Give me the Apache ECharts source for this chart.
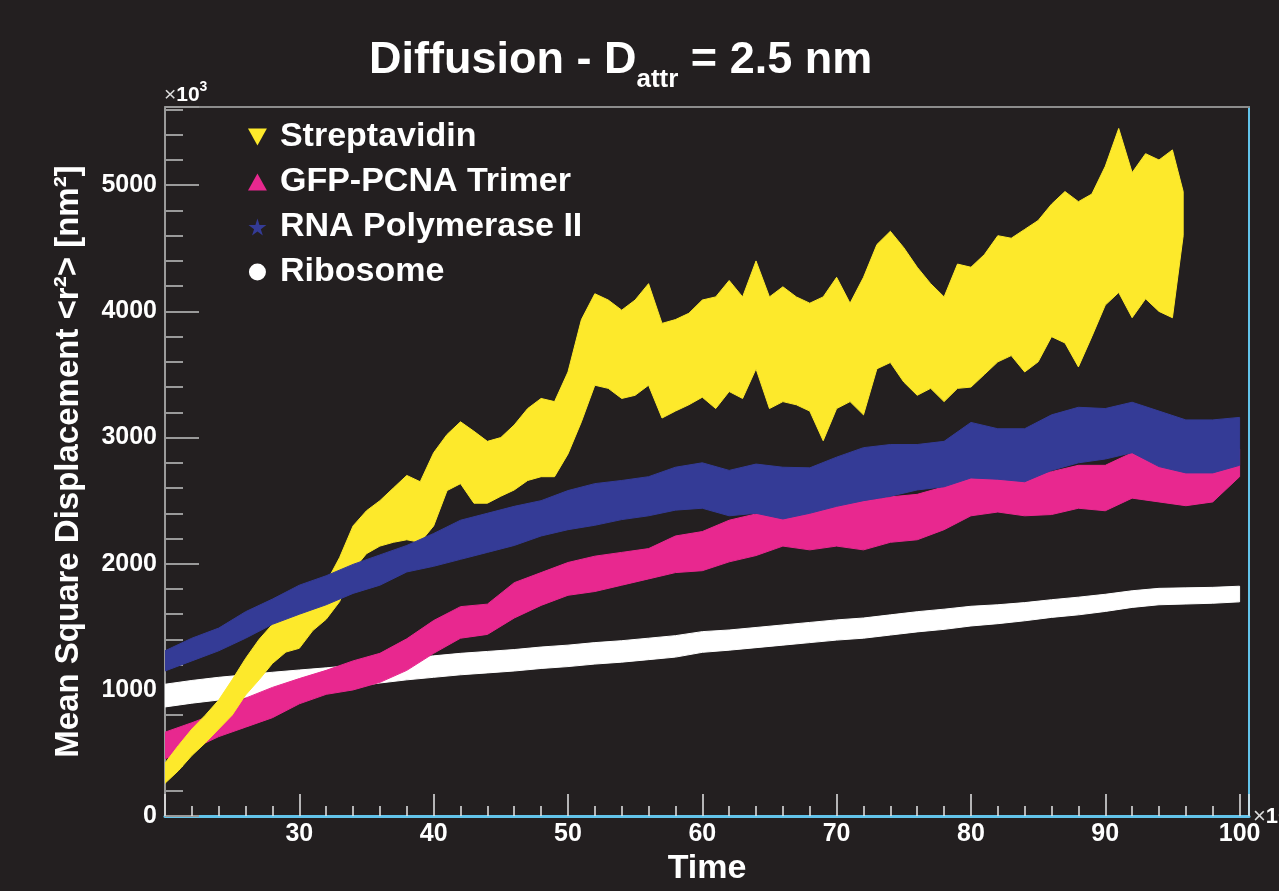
<!DOCTYPE html>
<html style="height: 100%">
  <head>
    <meta charset="utf-8" />
    <title>Diffusion</title>
    <script src="https://cdn.jsdelivr.net/npm/echarts@6/dist/echarts.min.js"></script>
  </head>
  <body style="height: 100%; margin: 0; background: #231f20">
    <div id="main" style="width: 1279px; height: 891px"></div>
    <script type="text/javascript">
      // time grid (smooth bands every 2, streptavidin every 1)
      var tCoarse = [20, 22, 24, 26, 28, 30, 32, 34, 36, 38, 40, 42, 44, 46, 48, 50, 52, 54, 56, 58, 60,
        62, 64, 66, 68, 70, 72, 74, 76, 78, 80, 82, 84, 86, 88, 90, 92, 94, 96, 98, 100];
      var tFine = [20, 21, 22, 23, 24, 25, 26, 27, 28, 29, 30, 31, 32, 33, 34, 35, 36, 37, 38, 39, 40,
        41, 42, 43, 44, 45, 46, 47, 48, 49, 50, 51, 52, 53, 54, 55, 56, 57, 58, 59, 60,
        61, 62, 63, 64, 65, 66, 67, 68, 69, 70, 71, 72, 73, 74, 75, 76, 77, 78, 79, 80,
        81, 82, 83, 84, 85, 86, 87, 88, 89, 90, 91, 92, 93, 94, 95, 95.8];

      // Streptavidin: lower / upper edge of the band
      var streptLow = [260, 360, 480, 580, 690, 800, 960, 1080, 1210, 1300, 1330,
        1470, 1560, 1700, 1950, 2080, 2140, 2170, 2190, 2170, 2300,
        2580, 2635, 2480, 2480, 2535, 2585, 2660, 2690, 2690, 2870,
        3125, 3415, 3390, 3310, 3335, 3415, 3155, 3210, 3260, 3320,
        3230, 3365, 3310, 3545, 3230, 3285, 3260, 3210, 2975, 3230,
        3285, 3180, 3545, 3595, 3440, 3335, 3390, 3285, 3390, 3400,
        3500, 3600, 3650, 3520, 3600, 3800, 3750, 3560, 3800, 4050,
        4150, 3950, 4100, 4000, 3950, 4600];
      var streptHigh = [420, 560, 690, 800, 920, 1080, 1250, 1400, 1520, 1580, 1620,
        1760, 1850, 2050, 2300, 2420, 2500, 2600, 2700, 2650, 2880,
        3025, 3125, 3050, 2970, 3000, 3100, 3230, 3310, 3285, 3520,
        3935, 4140, 4090, 4010, 4090, 4220, 3905, 3935, 3985, 4090,
        4115, 4245, 4115, 4400, 4115, 4195, 4115, 4065, 4115, 4270,
        4065, 4270, 4530, 4635, 4505, 4350, 4220, 4115, 4375, 4350,
        4450, 4600, 4580, 4650, 4720, 4850, 4950, 4870, 4930, 5150,
        5450, 5100, 5250, 5200, 5280, 4950];

      // GFP-PCNA Trimer: centre and half width
      var pcnaMsd = [560, 635, 725, 820, 900, 990, 1060, 1115, 1175, 1280, 1420,
        1535, 1560, 1710, 1800, 1880, 1920, 1960, 2000, 2075, 2100,
        2180, 2230, 2280, 2265, 2310, 2305, 2350, 2370, 2440, 2550,
        2560, 2540, 2560, 2610, 2600, 2700, 2650, 2600, 2640, 2800];
      var pcnaErr = [105, 105, 95, 115, 120, 100, 95, 115, 115, 125, 130,
        125, 120, 140, 130, 130, 140, 130, 120, 145, 155,
        165, 165, 140, 155, 170, 195, 180, 180, 170, 170,
        150, 160, 170, 170, 180, 180, 160, 140, 150, 110];

      // RNA Polymerase II
      var polMsd = [1230, 1320, 1400, 1515, 1620, 1715, 1790, 1880, 1950, 2040, 2110,
        2190, 2245, 2300, 2360, 2425, 2470, 2505, 2535, 2595, 2620,
        2560, 2595, 2560, 2580, 2650, 2710, 2740, 2765, 2790, 2900,
        2870, 2860, 2960, 3020, 3030, 3080, 2990, 2930, 2930, 2970];
      var polErr = [80, 90, 90, 105, 100, 115, 115, 115, 120, 105, 130,
        155, 155, 155, 140, 155, 165, 155, 155, 170, 180,
        180, 195, 205, 180, 195, 210, 205, 180, 180, 220,
        200, 210, 220, 220, 200, 200, 220, 210, 210, 190];

      // Ribosome
      var riboMsd = [955, 985, 1010, 1030, 1050, 1070, 1090, 1110, 1140, 1165, 1185,
        1205, 1220, 1235, 1255, 1270, 1290, 1305, 1325, 1345, 1380,
        1395, 1415, 1435, 1455, 1475, 1490, 1515, 1540, 1560, 1585,
        1600, 1620, 1645, 1665, 1690, 1720, 1740, 1745, 1750, 1760];
      var riboErr = [90, 90, 90, 90, 90, 88, 85, 85, 85, 85, 85,
        85, 85, 85, 85, 85, 85, 85, 85, 85, 82,
        80, 80, 80, 80, 80, 80, 80, 80, 80, 78,
        75, 72, 70, 70, 68, 66, 65, 64, 63, 62];

      var xTicks = [30, 40, 50, 60, 70, 80, 90, 100];

      var FONT = "'Liberation Sans', Arial, sans-serif";
      var BG = "#231f20";
      var colors = {
        strept: "#fde92b",
        pcna: "#e8288f",
        pol: "#343b96",
        ribo: "#ffffff",
      };

      function rowsFromEdges(ts, lo, hi) {
        var rows = [];
        for (var i = 0; i < ts.length; i++) rows.push([ts[i], lo[i], hi[i]]);
        return rows;
      }
      function rowsFromErr(ts, mid, err) {
        var rows = [];
        for (var i = 0; i < ts.length; i++) rows.push([ts[i], mid[i] - err[i], mid[i] + err[i]]);
        return rows;
      }

      // draw one filled band per series (whole polygon on the first item)
      function bandSeries(name, rows, color) {
        return {
          name: name,
          type: "custom",
          clip: true,
          itemStyle: { color: color },
          encode: { x: 0, y: [1, 2] },
          data: rows,
          renderItem: function (params, api) {
            if (params.dataIndex !== 0) return;
            var top = [], bot = [];
            for (var i = 0; i < rows.length; i++) {
              top.push(api.coord([rows[i][0], rows[i][2]]));
              bot.push(api.coord([rows[i][0], rows[i][1]]));
            }
            return {
              type: "polygon",
              shape: { points: top.concat(bot.reverse()) },
              style: { fill: color, stroke: color, lineWidth: 1 },
            };
          },
        };
      }

      var myChart = echarts.init(document.getElementById("main"));

      var option = {
        backgroundColor: BG,
        animation: false,
        textStyle: { fontFamily: FONT },
        title: {
          text: "{a|Diffusion - D}{s|attr}{a| = 2.5 nm}",
          left: 364,
          top: 24,
          textStyle: {
            rich: {
              a: { color: "#fff", fontSize: 45, fontWeight: "bold", fontFamily: FONT, lineHeight: 64, verticalAlign: "middle" },
              s: { color: "#fff", fontSize: 26, fontWeight: "bold", fontFamily: FONT, lineHeight: 64, verticalAlign: "bottom" },
            },
          },
        },
        legend: {
          orient: "vertical",
          left: 243,
          top: 114,
          itemWidth: 19,
          itemHeight: 17,
          itemGap: 9,
          textStyle: {
            color: "#fff",
            fontSize: 34,
            fontWeight: "bold",
            fontFamily: FONT,
            lineHeight: 36,
            padding: [0, 0, 0, 8],
          },
          data: [
            { name: "Streptavidin", icon: "path://M0,0L10,0L5,9Z", itemStyle: { color: colors.strept } },
            { name: "GFP-PCNA Trimer", icon: "path://M5,0L10,9L0,9Z", itemStyle: { color: colors.pcna } },
            {
              name: "RNA Polymerase II",
              icon: "path://M50,0L61,35L98,35L68,57L79,91L50,70L21,91L32,57L2,35L39,35Z",
              itemStyle: { color: colors.pol },
            },
            { name: "Ribosome", icon: "circle", itemStyle: { color: colors.ribo } },
          ],
        },
        graphic: [
          {
            type: "text",
            left: 164,
            top: 80,
            style: {
              text: "{x|×}{n|10}{s|3}",
              rich: {
                x: { fill: "#ddd", fontSize: 21, fontFamily: FONT, lineHeight: 26, verticalAlign: "bottom" },
                n: { fill: "#fff", fontSize: 21, fontWeight: "bold", fontFamily: FONT, lineHeight: 26, verticalAlign: "bottom" },
                s: { fill: "#fff", fontSize: 14, fontWeight: "bold", fontFamily: FONT, lineHeight: 26, verticalAlign: "top" },
              },
            },
          },
          {
            type: "text",
            left: 1253,
            top: 806,
            style: {
              text: "{x|×}{n|10}",
              rich: {
                x: { fill: "#ddd", fontSize: 22, fontFamily: FONT },
                n: { fill: "#fff", fontSize: 22, fontWeight: "bold", fontFamily: FONT },
              },
            },
          },
        ],
        grid: { left: 165, right: 30, top: 107, bottom: 63, containLabel: false },
        xAxis: [
          {
            type: "value",
            min: 20,
            max: 100.7,
            interval: 10,
            name: "Time",
            nameLocation: "middle",
            nameGap: 31,
            nameTextStyle: { color: "#fff", fontSize: 34, fontWeight: "bold", fontFamily: FONT },
            axisLine: { show: true, onZero: false, lineStyle: { color: "#62c3ea", width: 3 } },
            axisTick: { show: true, inside: true, length: 22, lineStyle: { color: "#e6e6e6", width: 1.5 } },
            minorTick: { show: true, splitNumber: 5, length: 10, lineStyle: { color: "#e6e6e6", width: 1.5 } },
            axisLabel: {
              color: "#fff",
              fontSize: 25,
              fontWeight: "bold",
              fontFamily: FONT,
              margin: 6,
              showMinLabel: false,
              formatter: function (v) {
                return xTicks.indexOf(v) >= 0 ? String(v) : "";
              },
            },
            splitLine: { show: false },
            minorSplitLine: { show: false },
          },
          {
            type: "value",
            position: "top",
            min: 20,
            max: 100.7,
            axisLine: { show: true, onZero: false, lineStyle: { color: "#8c8c8c", width: 2 } },
            axisTick: { show: false },
            axisLabel: { show: false },
            splitLine: { show: false },
          },
        ],
        yAxis: [
          {
            type: "value",
            min: 0,
            max: 5620,
            interval: 1000,
            name: "Mean Square Displacement <r²> [nm²]",
            nameLocation: "middle",
            nameGap: 80,
            nameTextStyle: { color: "#fff", fontSize: 33, fontWeight: "bold", fontFamily: FONT },
            axisLine: { show: true, onZero: false, lineStyle: { color: "#9a9a9a", width: 2 } },
            axisTick: { show: true, inside: true, length: 34, lineStyle: { color: "#9a9a9a", width: 2 } },
            minorTick: { show: true, splitNumber: 5, length: 18, lineStyle: { color: "#9a9a9a", width: 2 } },
            axisLabel: {
              color: "#fff",
              fontSize: 25,
              fontWeight: "bold",
              fontFamily: FONT,
              margin: 8,
              showMaxLabel: false,
              formatter: function (v) {
                return String(v);
              },
            },
            splitLine: { show: false },
            minorSplitLine: { show: false },
          },
          {
            type: "value",
            position: "right",
            min: 0,
            max: 5620,
            axisLine: { show: true, onZero: false, lineStyle: { color: "#62c3ea", width: 2 } },
            axisTick: { show: false },
            axisLabel: { show: false },
            splitLine: { show: false },
          },
        ],
        series: [
          bandSeries("Ribosome", rowsFromErr(tCoarse, riboMsd, riboErr), colors.ribo),
          bandSeries("GFP-PCNA Trimer", rowsFromErr(tCoarse, pcnaMsd, pcnaErr), colors.pcna),
          bandSeries("Streptavidin", rowsFromEdges(tFine, streptLow, streptHigh), colors.strept),
          bandSeries("RNA Polymerase II", rowsFromErr(tCoarse, polMsd, polErr), colors.pol),
        ],
      };

      myChart.setOption(option);
    </script>
  </body>
</html>
